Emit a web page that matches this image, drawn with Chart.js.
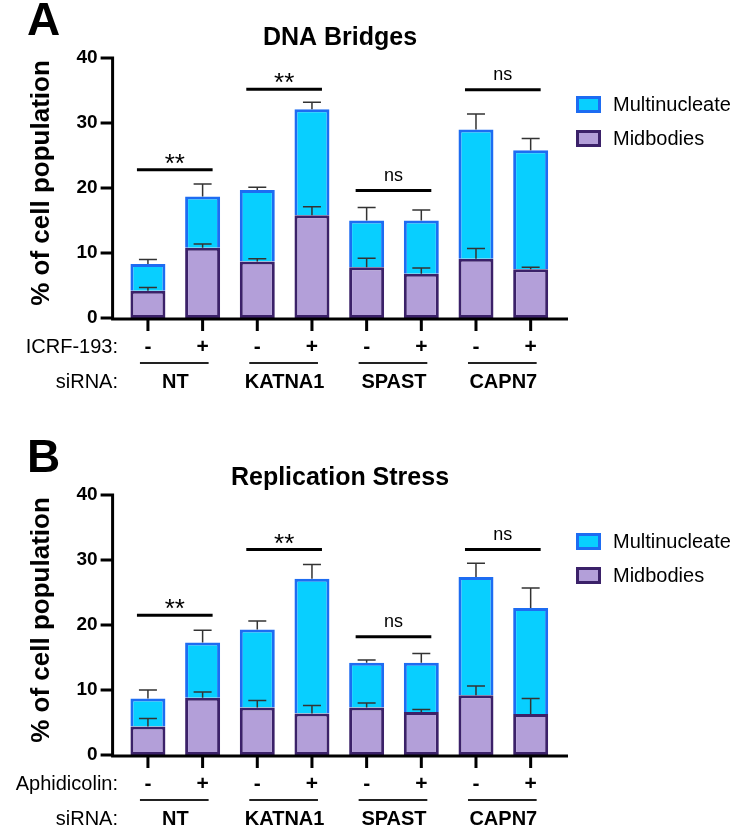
<!DOCTYPE html>
<html>
<head>
<meta charset="utf-8">
<script src="https://cdn.jsdelivr.net/npm/chart.js@4.4.1/dist/chart.umd.min.js"></script>
<style>
  body { margin: 0; background: #fff; }
  .panel { position: absolute; left: 0; width: 746px; }
</style>
</head>
<body>
<div class="panel" style="top:0;height:437px"><canvas id="chartA" width="746" height="437"></canvas></div>
<div class="panel" style="top:437px;height:401px"><canvas id="chartB" width="746" height="401"></canvas></div>
<script>
// siRNA groups, treatment signs and y ticks
const groups = ["NT", "KATNA1", "SPAST", "CAPN7"];
const signs = ["-", "+", "-", "+", "-", "+", "-", "+"];
const categories = ["NT -", "NT +", "KATNA1 -", "KATNA1 +", "SPAST -", "SPAST +", "CAPN7 -", "CAPN7 +"];
const yTicks = [0, 10, 20, 30, 40];
const sigLabels = ["**", "**", "ns", "ns"];

// A: DNA bridges (ICRF-193)
const midA = [4.2, 10.8, 8.7, 15.8, 7.8, 6.8, 9.1, 7.5];
const midErrA = [0.5, 0.6, 0.4, 1.3, 1.4, 0.9, 1.6, 0.3];
const multiA = [4.1, 7.9, 11.0, 16.3, 7.2, 8.2, 19.9, 18.3];
const totErrA = [0.7, 1.9, 0.4, 1.1, 2.0, 1.6, 2.4, 1.8];
const sigA = [22.8, 35.2, 19.6, 35.1];

// B: replication stress (aphidicolin)
const midB = [4.4, 8.8, 7.3, 6.4, 7.3, 6.6, 9.2, 6.3];
const midErrB = [1.2, 0.9, 1.1, 1.2, 0.7, 0.4, 1.4, 2.4];
const multiB = [4.3, 8.5, 12.0, 20.7, 6.9, 7.6, 18.2, 16.3];
const totErrB = [1.3, 1.9, 1.3, 2.2, 0.4, 1.4, 2.1, 3.1];
const sigB = [21.5, 31.6, 18.2, 31.6];

const FONT = "'Liberation Sans', Arial, sans-serif";
const CYAN = "#08cfff", BLUE = "#1d6cf2";
const LILAC = "#b39fd9", DARK = "#3b2169";

function makeDecor(p) {
  return {
    id: "decor",
    afterDatasetsDraw(chart) {
      const ctx = chart.ctx;
      const area = chart.chartArea;
      const xs = chart.scales.x, ys = chart.scales.y;
      const axisX = area.left - 8;
      ctx.save();

      // error bars (upper only)
      ctx.lineWidth = 1.5;
      ctx.strokeStyle = "#333";
      const m0 = chart.getDatasetMeta(0), m1 = chart.getDatasetMeta(1);
      p.mid.forEach((v, j) => {
        [[m0.data[j], v, p.midErr[j]], [m1.data[j], v + p.multi[j], p.totErr[j]]].forEach(([bar, top, err]) => {
          const y2 = ys.getPixelForValue(top + err);
          ctx.beginPath();
          ctx.moveTo(bar.x, bar.y);
          ctx.lineTo(bar.x, y2);
          ctx.moveTo(bar.x - 9, y2);
          ctx.lineTo(bar.x + 9, y2);
          ctx.stroke();
        });
      });

      // axes
      ctx.strokeStyle = "#000";
      ctx.lineWidth = 3;
      ctx.beginPath();
      ctx.moveTo(axisX, area.top - 1.5);
      ctx.lineTo(axisX, area.bottom + 2.5);
      yTicks.forEach(v => {
        const y = ys.getPixelForValue(v);
        ctx.moveTo(axisX - 12, y);
        ctx.lineTo(axisX, y);
      });
      const y0 = area.bottom + 1;
      ctx.moveTo(axisX - 1.5, y0);
      ctx.lineTo(area.right + 10, y0);
      signs.forEach((s, j) => {
        const x = xs.getPixelForValue(j);
        ctx.moveTo(x, y0);
        ctx.lineTo(x, y0 + 12);
      });
      ctx.stroke();

      // significance brackets
      ctx.fillStyle = "#000";
      ctx.textAlign = "center";
      ctx.textBaseline = "alphabetic";
      p.sig.forEach((h, k) => {
        const xa = xs.getPixelForValue(2 * k) - 11;
        const xb = xs.getPixelForValue(2 * k + 1) + 10;
        const y = ys.getPixelForValue(h);
        ctx.beginPath();
        ctx.moveTo(xa, y);
        ctx.lineTo(xb, y);
        ctx.stroke();
        const t = sigLabels[k];
        if (t === "**") {
          ctx.font = "26px " + FONT;
          ctx.fillText(t, (xa + xb) / 2, y + 2);
        } else {
          ctx.font = "18px " + FONT;
          ctx.fillText(t, (xa + xb) / 2, y - 10);
        }
      });

      // treatment row
      ctx.font = "bold 21px " + FONT;
      signs.forEach((s, j) => {
        ctx.fillText(s, xs.getPixelForValue(j), area.bottom + 35);
      });
      ctx.font = "20px " + FONT;
      ctx.textAlign = "right";
      ctx.fillText(p.treatment + ":", 118, area.bottom + 35);
      ctx.fillText("siRNA:", 118, area.bottom + 70);

      // group underlines and names
      ctx.strokeStyle = "#222";
      ctx.lineWidth = 2;
      ctx.textAlign = "center";
      ctx.font = "bold 20px " + FONT;
      groups.forEach((g, k) => {
        const c1 = xs.getPixelForValue(2 * k), c2 = xs.getPixelForValue(2 * k + 1);
        ctx.beginPath();
        ctx.moveTo(c1 - 8, area.bottom + 45);
        ctx.lineTo(c2 + 6, area.bottom + 45);
        ctx.stroke();
        ctx.fillText(g, (c1 + c2) / 2, area.bottom + 70);
      });

      // legend
      const items = [["Multinucleate", CYAN, BLUE], ["Midbodies", LILAC, DARK]];
      ctx.textAlign = "left";
      ctx.textBaseline = "middle";
      ctx.font = "20px " + FONT;
      items.forEach(([name, fill, line], k) => {
        const ty = area.top + 38 + k * 34;
        ctx.fillStyle = fill;
        ctx.fillRect(576, ty, 25, 17);
        ctx.strokeStyle = line;
        ctx.lineWidth = 3;
        ctx.strokeRect(577.5, ty + 1.5, 22, 14);
        ctx.fillStyle = "#000";
        ctx.fillText(name, 613, ty + 9);
      });

      // titles
      ctx.textBaseline = "alphabetic";
      ctx.textAlign = "center";
      ctx.font = "bold 25px " + FONT;
      ctx.fillText(p.title, 340, p.titleBase);
      ctx.textAlign = "left";
      ctx.font = "bold 46px " + FONT;
      ctx.fillText(p.letter, 27, 35);

      ctx.translate(42, (area.top + area.bottom) / 2 - 5);
      ctx.rotate(-Math.PI / 2);
      ctx.textAlign = "center";
      ctx.textBaseline = "middle";
      ctx.font = "bold 26px " + FONT;
      ctx.fillText("% of cell population", 0, 0);
      ctx.restore();
    }
  };
}

function drawPanel(id, p) {
  new Chart(document.getElementById(id), {
    type: "bar",
    data: {
      labels: categories,
      datasets: [
        { label: "Midbodies", data: p.mid, backgroundColor: LILAC, borderColor: DARK, borderWidth: 3, borderSkipped: false },
        { label: "Multinucleate", data: p.multi, backgroundColor: CYAN, borderColor: BLUE, borderWidth: 3 }
      ]
    },
    options: {
      responsive: false,
      animation: false,
      layout: { padding: { left: 0, top: 58, right: 188, bottom: p.padBottom } },
      datasets: { bar: { categoryPercentage: 1, barPercentage: 0.64 } },
      plugins: { legend: { display: false }, tooltip: { enabled: false } },
      scales: {
        x: { stacked: true, display: false, offset: true },
        y: {
          stacked: true, min: 0, max: 40,
          ticks: { stepSize: 10, color: "#000", padding: 23, font: { family: FONT, size: 19, weight: "bold" } },
          grid: { display: false, drawTicks: false },
          border: { display: false },
          afterFit(s) { s.width = 120.6; }
        }
      }
    },
    plugins: [makeDecor(p)]
  });
}

drawPanel("chartA", {
  letter: "A", title: "DNA Bridges", treatment: "ICRF-193", titleBase: 45, padBottom: 119,
  mid: midA, midErr: midErrA, multi: multiA, totErr: totErrA, sig: sigA
});
drawPanel("chartB", {
  letter: "B", title: "Replication Stress", treatment: "Aphidicolin", titleBase: 48, padBottom: 83,
  mid: midB, midErr: midErrB, multi: multiB, totErr: totErrB, sig: sigB
});
</script>
</body>
</html>
